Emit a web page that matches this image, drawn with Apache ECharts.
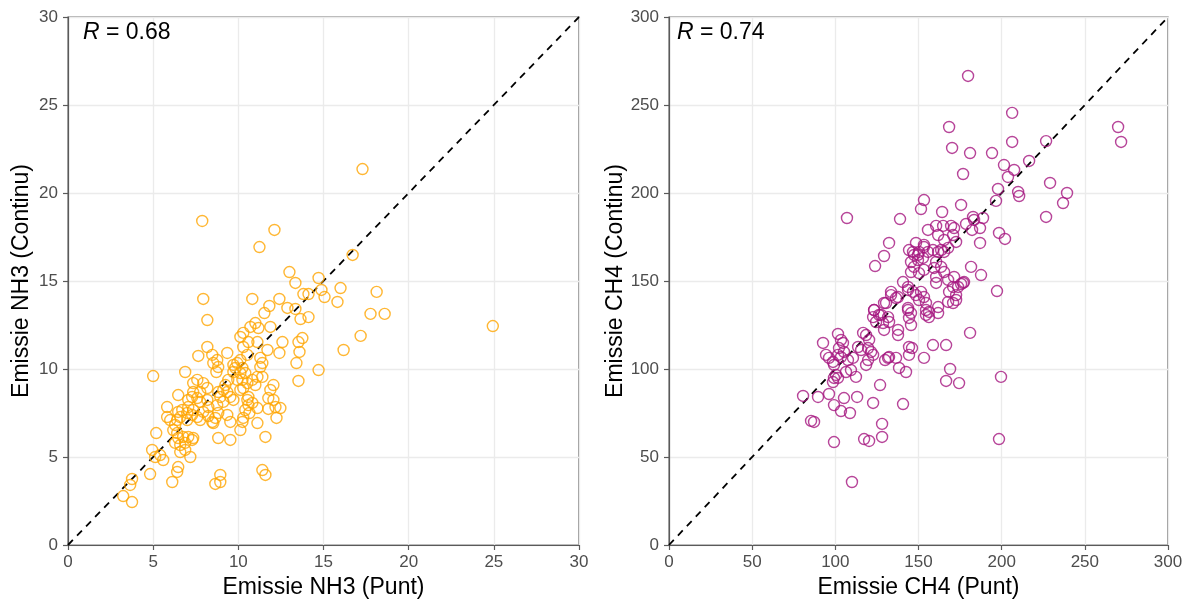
<!DOCTYPE html>
<html><head><meta charset="utf-8">
<script src="https://cdn.jsdelivr.net/npm/echarts@6/dist/echarts.min.js"></script>
<style>html,body{margin:0;padding:0;background:#fff}#c{width:1187px;height:600px}</style>
</head><body><div id="c"></div>
<script>
// Left panel: NH3
const nh3Punt = [17.29,7.88,12.12,11.24,16.71,13.00,13.35,14.71,14.88,15.06,16.00,15.82,18.12,17.76,18.59,17.18,16.18,24.94,13.82,14.12,10.82,12.41,11.82,12.88,13.35,11.53,13.65,14.12,8.18,11.00,11.18,10.71,11.88,10.29,10.12,12.59,11.12,10.59,8.18,9.35,13.53,13.76,13.59,12.41,11.71,13.41,14.71,13.53,11.29,11.41,10.12,10.24,9.71,5.00,6.88,7.65,8.47,8.76,8.53,8.82,8.71,11.29,11.41,12.06,11.88,11.76,12.06,12.18,12.47,11.76,12.24,11.12,11.59,11.41,11.59,10.12,9.53,8.82,8.94,8.65,8.94,9.82,10.12,10.41,10.24,10.53,10.82,11.00,10.29,10.12,11.12,9.41,9.24,9.12,9.35,9.53,9.71,10.53,10.59,10.41,10.29,10.24,11.12,9.53,9.35,8.82,8.65,8.47,8.24,8.53,8.76,9.12,8.94,8.82,7.35,7.59,7.94,8.18,7.76,7.35,7.29,7.59,7.06,7.06,7.76,8.18,8.24,7.94,7.35,7.29,7.59,7.76,7.00,7.00,6.71,6.47,6.59,6.41,6.29,6.00,5.82,5.82,6.47,6.18,6.41,6.47,6.76,7.06,7.29,7.35,6.88,6.59,6.29,6.59,6.88,7.18,5.18,4.94,5.12,5.41,5.59,4.82,6.47,6.41,6.12,3.76,3.65,3.24,3.76,10.29,10.53,9.94,9.71,9.94,10.65,10.82,10.59,7.94];
const nh3Continu = [21.36,18.41,17.90,16.93,16.48,15.51,14.89,15.17,14.49,14.09,14.60,13.81,14.38,13.13,13.13,11.88,11.08,12.44,14.26,14.26,13.98,13.98,13.58,13.47,13.41,13.18,12.84,12.95,12.78,12.61,12.33,12.39,12.39,12.05,11.82,11.53,11.53,11.53,11.25,10.91,11.53,11.76,10.97,10.91,11.08,10.34,9.94,9.32,10.63,10.34,10.51,10.06,10.23,9.60,9.83,10.74,10.80,10.51,10.34,10.11,9.83,10.11,9.55,9.09,8.81,8.35,8.24,7.84,7.78,7.73,7.22,6.93,6.14,4.26,3.98,6.53,5.97,6.08,3.98,3.47,3.58,10.06,9.77,9.77,9.38,9.20,9.38,9.09,8.92,8.81,9.55,9.38,9.09,8.81,8.69,8.41,8.24,8.24,7.95,7.67,7.22,6.99,7.78,6.99,7.39,7.50,7.22,6.99,7.33,6.93,7.95,8.13,8.41,8.69,9.20,9.38,9.20,8.92,8.69,8.69,8.41,8.35,8.24,7.84,8.13,8.24,7.84,7.56,7.67,7.39,7.27,7.10,7.50,7.10,7.67,7.56,7.27,7.10,6.82,7.10,7.27,7.84,8.52,6.53,6.36,6.08,6.14,6.14,5.97,6.08,5.80,5.68,5.80,5.28,5.40,5.00,6.36,5.40,5.00,5.11,4.83,4.03,4.43,4.15,3.58,3.75,3.41,2.78,2.44,11.25,10.80,10.34,9.83,9.38,7.50,8.07,8.41,13.98];
// Right panel: CH4
const ch4Punt = [179.8,206.3,270.0,271.8,206.3,226.7,181.0,194.2,201.4,207.5,216.5,203.8,176.8,229.1,197.8,196.6,209.9,210.5,239.3,236.9,226.7,175.6,182.8,188.8,178.6,183.4,182.2,187.0,198.4,202.0,187.0,181.6,187.6,177.4,175.6,197.2,181.0,199.6,198.4,92.6,101.6,103.4,104.6,102.2,105.2,101.6,103.4,94.4,96.2,98.6,99.2,107.6,110.6,109.4,106.4,100.4,99.2,98.6,101.6,112.4,113.7,116.7,118.5,120.3,119.7,121.5,122.7,119.7,118.5,115.5,123.3,126.3,129.3,131.7,132.3,129.3,128.7,124.5,133.5,136.5,143.7,137.7,137.7,145.5,144.3,143.7,144.3,146.1,144.3,153.3,158.7,166.6,131.7,132.3,136.5,138.3,142.5,129.9,169.0,166.6,174.4,80.6,89.6,96.2,99.2,105.2,103.4,108.8,113.1,126.9,122.7,140.7,85.4,87.2,128.1,128.1,99.2,117.3,120.3,110.0,168.4,170.2,153.3,151.5,164.2,107.0,138.9,132.3,129.3,155.7,160.6,164.8,169.6,171.4,161.8,165.4,170.8,172.6,148.5,153.3,146.7,149.7,155.7,161.8,165.4,167.8,123.9,144.3,150.3,153.3,147.3,145.5,149.7,152.7,147.3,145.5,150.3,153.3,158.7,163.6,160.6,159.4,163.6,165.4,160.6,160.6,167.8,171.4,170.8,173.8,176.8,168.4,172.6,140.7,143.7,146.7,148.5,151.5,153.3,150.3,154.5,161.8,156.3,154.5,167.8,170.8,172.6,133.5,137.7,130.5,123.3,122.7,127.5,143.7,145.5,154.5,156.3,161.8];
const ch4Continu = [266.5,245.5,237.5,229.0,229.0,229.5,222.7,222.7,215.9,213.1,218.2,209.1,210.8,205.7,202.3,195.5,200.6,198.3,200.0,194.3,186.4,193.2,186.4,185.8,182.4,184.7,179.0,180.1,177.3,173.9,171.6,158.0,153.4,149.4,148.3,144.3,120.5,95.5,60.2,114.8,119.9,116.5,114.8,111.9,109.7,108.0,106.8,108.0,106.3,104.0,102.3,105.1,106.3,99.4,98.3,96.6,94.9,92.6,94.9,95.5,112.5,120.5,119.3,116.5,111.9,109.7,108.0,105.1,102.3,110.8,133.5,130.7,137.5,129.5,126.7,122.2,126.1,126.7,142.0,140.3,144.9,122.2,119.3,125.0,129.0,133.5,112.5,111.9,108.0,106.3,113.6,113.6,106.3,106.8,106.3,100.6,98.3,105.1,100.0,93.2,92.0,84.7,84.1,85.8,79.5,83.5,76.1,75.0,84.1,90.9,80.7,80.1,70.5,69.9,68.8,61.4,58.5,60.2,59.1,35.8,237.5,225.6,196.0,190.9,189.2,185.8,185.2,171.6,164.2,179.0,181.3,181.3,181.3,180.1,176.1,173.3,176.1,172.2,171.6,170.5,166.5,164.8,166.5,166.5,166.5,168.8,158.5,167.6,166.5,169.3,164.8,160.8,161.9,163.1,158.0,155.1,154.5,156.3,167.6,167.6,160.8,157.4,158.0,155.1,152.3,148.9,150.6,152.3,146.6,146.6,148.9,143.8,142.0,149.4,146.6,143.8,142.0,143.8,140.9,139.2,137.5,135.2,132.4,130.7,138.1,137.5,139.2,143.8,140.9,137.5,133.5,129.5,130.7,134.7,131.8,133.5,129.5,131.8];

const nh3Ticks = [0, 30, 5];
const ch4Ticks = [0, 300, 50];
const rLabels = ['0.68', '0.74'];
const xNames = ['Emissie NH3 (Punt)', 'Emissie CH4 (Punt)'];
const yNames = ['Emissie NH3 (Continu)', 'Emissie CH4 (Continu)'];

const FONT = '"Liberation Sans", Arial, sans-serif';
const zip = (a, b) => a.map((v, i) => [v, b[i]]);

function axis(t, name, isX) {
  return {
    type: 'value', min: t[0], max: t[1], interval: t[2],
    name: name, nameLocation: 'middle', nameGap: isX ? 30 : 35,
    nameTextStyle: { fontFamily: FONT, fontSize: 23, color: '#000' },
    axisLine: { show: true, lineStyle: { color: '#5a5a5a', width: 1.2 } },
    axisTick: { show: true, length: 5, lineStyle: { color: '#5a5a5a', width: 1.2 } },
    axisLabel: { fontFamily: FONT, fontSize: 17, color: '#4d4d4d', margin: isX ? 9 : 10, showMaxLabel: true },
    splitLine: { show: true, lineStyle: { color: '#ebebeb', width: 1.3 } }
  };
}

const chart = echarts.init(document.getElementById('c'), null, { renderer: 'canvas' });
const sty = (c) => ({ color: 'transparent', borderColor: c, borderWidth: 1.4 });
const rStyle = { fontFamily: FONT, fontSize: 23, fontWeight: 'normal', color: '#000',
  rich: { i: { fontFamily: FONT, fontSize: 23, fontStyle: 'italic', color: '#000' } } };
chart.setOption({
  animation: false,
  backgroundColor: '#fff',
  title: [
    { text: '{i|R} = ' + rLabels[0], left: 78, top: 16, textStyle: rStyle },
    { text: '{i|R} = ' + rLabels[1], left: 672, top: 16, textStyle: rStyle }
  ],
  grid: [
    { left: 68, top: 17, width: 511, height: 528, show: true, borderColor: '#5a5a5a', borderWidth: 1.2, backgroundColor: 'transparent', containLabel: false, outerBoundsMode: 'none' },
    { left: 669, top: 17, width: 499, height: 528, show: true, borderColor: '#5a5a5a', borderWidth: 1.2, backgroundColor: 'transparent', containLabel: false, outerBoundsMode: 'none' }
  ],
  xAxis: [
    Object.assign(axis(nh3Ticks, xNames[0], true), { gridIndex: 0 }),
    Object.assign(axis(ch4Ticks, xNames[1], true), { gridIndex: 1 })
  ],
  yAxis: [
    Object.assign(axis(nh3Ticks, yNames[0], false), { gridIndex: 0 }),
    Object.assign(axis(ch4Ticks, yNames[1], false), { gridIndex: 1 })
  ],
  series: [
    { type: 'line', xAxisIndex: 0, yAxisIndex: 0, data: [[nh3Ticks[0], nh3Ticks[0]], [nh3Ticks[1], nh3Ticks[1]]],
      symbol: 'none', lineStyle: { color: '#000', width: 1.8, type: [7, 6] }, z: 1 },
    { type: 'line', xAxisIndex: 1, yAxisIndex: 1, data: [[ch4Ticks[0], ch4Ticks[0]], [ch4Ticks[1], ch4Ticks[1]]],
      symbol: 'none', lineStyle: { color: '#000', width: 1.8, type: [7, 6] }, z: 1 },
    { type: 'scatter', xAxisIndex: 0, yAxisIndex: 0, data: zip(nh3Punt, nh3Continu),
      symbol: 'circle', symbolSize: 11, itemStyle: sty('#FFA500'), z: 3 },
    { type: 'scatter', xAxisIndex: 1, yAxisIndex: 1, data: zip(ch4Punt, ch4Continu),
      symbol: 'circle', symbolSize: 11, itemStyle: sty('#A5177F'), z: 3 }
  ]
});
</script></body></html>
